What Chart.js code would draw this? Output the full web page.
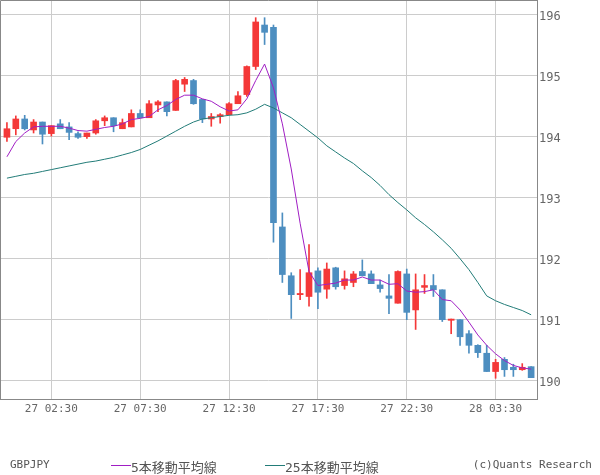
<!DOCTYPE html>
<html>
<head>
<meta charset="utf-8">
<script src="https://cdn.jsdelivr.net/npm/chart.js@4"></script>
<style>
  body { margin: 0; background: #fff; }
  #wrap { position: relative; width: 600px; height: 475px; }
  .foot { position: absolute; top: 457px; font: 11px "DejaVu Sans Mono", monospace; color: #555; line-height: 16px; white-space: nowrap; }
  .jp { font: 13px "DejaVu Sans Mono", "Noto Sans CJK JP", monospace; }
  .swatch { position: absolute; top: 465px; width: 20px; height: 1px; }
</style>
</head>
<body>
<div id="wrap">
  <canvas id="chart" width="600" height="475"></canvas>
  <div class="foot" style="left:10px">GBPJPY</div>
  <div class="swatch" style="left:111px;background:#a01ec4"></div>
  <div class="foot jp" style="left:131px">5本移動平均線</div>
  <div class="swatch" style="left:265px;background:#227c78"></div>
  <div class="foot jp" style="left:285px">25本移動平均線</div>
  <div class="foot" style="right:8px">(c)Quants Research</div>
</div>
<script>
// GBPJPY 30-minute candles, 27 00:00 -> 28 05:30
const opens = [193.98, 194.12, 194.28, 194.10, 194.23, 194.04, 194.20, 194.15, 194.04, 193.99,
  194.05, 194.25, 194.30, 194.12, 194.15, 194.37, 194.30, 194.51, 194.56, 194.42,
  194.85, 194.91, 194.60, 194.28, 194.32, 194.35, 194.53, 194.68, 195.14, 195.82,
  195.78, 192.51, 191.71, 191.40, 191.37, 191.79, 191.49, 191.84, 191.55, 191.60,
  191.78, 191.74, 191.56, 191.38, 191.26, 191.74, 191.15, 191.52, 191.55, 191.48,
  190.98, 190.99, 190.76, 190.57, 190.44, 190.14, 190.34, 190.21, 190.17, 190.22];
const highs = [194.22, 194.33, 194.34, 194.27, 194.23, 194.17, 194.27, 194.22, 194.07, 194.05,
  194.27, 194.33, 194.30, 194.28, 194.43, 194.43, 194.58, 194.58, 194.56, 194.93,
  194.96, 194.93, 194.60, 194.37, 194.37, 194.55, 194.73, 195.15, 195.94, 195.94,
  195.82, 192.74, 191.76, 191.81, 192.22, 191.84, 191.92, 191.85, 191.79, 191.78,
  191.97, 191.79, 191.64, 191.73, 191.79, 191.82, 191.74, 191.73, 191.73, 191.48,
  191.00, 190.99, 190.81, 190.58, 190.57, 190.34, 190.37, 190.26, 190.27, 190.22];
const lows = [193.91, 194.02, 194.10, 194.05, 193.87, 194.00, 194.12, 193.94, 193.96, 193.96,
  194.03, 194.17, 194.07, 194.12, 194.15, 194.30, 194.30, 194.40, 194.33, 194.42,
  194.73, 194.52, 194.22, 194.16, 194.21, 194.35, 194.53, 194.65, 195.09, 195.50,
  192.26, 191.60, 191.01, 191.32, 191.21, 191.17, 191.34, 191.49, 191.49, 191.53,
  191.71, 191.58, 191.44, 191.09, 191.26, 190.99, 190.83, 191.42, 191.37, 190.96,
  190.76, 190.57, 190.44, 190.37, 190.14, 190.03, 190.06, 190.06, 190.16, 190.04];
const closes = [194.12, 194.28, 194.12, 194.23, 194.03, 194.17, 194.12, 194.06, 193.98, 194.05,
  194.25, 194.30, 194.17, 194.22, 194.37, 194.30, 194.53, 194.56, 194.40, 194.91,
  194.93, 194.53, 194.28, 194.32, 194.35, 194.53, 194.66, 195.14, 195.87, 195.70,
  192.58, 191.73, 191.40, 191.42, 191.76, 191.44, 191.82, 191.53, 191.66, 191.74,
  191.71, 191.58, 191.50, 191.34, 191.78, 191.11, 191.48, 191.55, 191.48, 190.99,
  191.00, 190.71, 190.57, 190.45, 190.14, 190.29, 190.17, 190.17, 190.21, 190.04];

// moving averages
const ma5 = [193.66, 193.91, 194.05, 194.15, 194.16, 194.16, 194.16, 194.13, 194.09, 194.08,
  194.11, 194.14, 194.16, 194.20, 194.27, 194.29, 194.32, 194.43, 194.50, 194.60,
  194.67, 194.67, 194.61, 194.57, 194.48, 194.41, 194.43, 194.61, 194.91, 195.18,
  194.79, 194.20, 193.46, 192.57, 191.78, 191.55, 191.57, 191.59, 191.64, 191.64,
  191.69, 191.64, 191.64, 191.57, 191.58, 191.46, 191.44, 191.45, 191.48, 191.32,
  191.30, 191.15, 190.95, 190.74, 190.57, 190.43, 190.32, 190.24, 190.20, 190.18];
const ma25 = [193.31, 193.34, 193.37, 193.39, 193.42, 193.45, 193.48, 193.51, 193.54, 193.57,
  193.59, 193.62, 193.65, 193.69, 193.73, 193.78, 193.85, 193.92, 194.00, 194.08,
  194.16, 194.23, 194.28, 194.30, 194.32, 194.34, 194.35, 194.38, 194.44, 194.52,
  194.46, 194.38, 194.30, 194.19, 194.08, 193.97, 193.84, 193.74, 193.64, 193.55,
  193.43, 193.32, 193.19, 193.04, 192.91, 192.79, 192.66, 192.55, 192.43, 192.30,
  192.16, 191.99, 191.81, 191.60, 191.38, 191.30, 191.24, 191.19, 191.14, 191.07];

const xTickPos = [5, 15, 25, 35, 45, 55];
const xTickLabels = ["27 02:30", "27 07:30", "27 12:30", "27 17:30", "27 22:30", "28 03:30"];
const yTicks = [190, 191, 192, 193, 194, 195, 196];

const UP = "#f43838";
const DOWN = "#4d8ec0";
const candleColors = closes.map((c, i) => (c >= opens[i] ? UP : DOWN));

// draw the left/top frame lines (Chart.js only draws the axis sides)
const framePlugin = {
  id: "frame",
  afterDraw(chart) {
    const a = chart.chartArea;
    const ctx = chart.ctx;
    ctx.save();
    ctx.strokeStyle = "#888";
    ctx.lineWidth = 1;
    ctx.beginPath();
    ctx.moveTo(a.left + 0.5, a.bottom);
    ctx.lineTo(a.left + 0.5, a.top + 0.5);
    ctx.lineTo(a.right, a.top + 0.5);
    ctx.stroke();
    ctx.restore();
  }
};

new Chart(document.getElementById("chart"), {
  type: "bar",
  data: {
    datasets: [
      {
        type: "line",
        label: "5本移動平均線",
        data: ma5.map((v, i) => ({ x: i, y: v })),
        borderColor: "#a01ec4",
        borderWidth: 1,
        pointRadius: 0,
        tension: 0,
        order: 0
      },
      {
        type: "line",
        label: "25本移動平均線",
        data: ma25.map((v, i) => ({ x: i, y: v })),
        borderColor: "#227c78",
        borderWidth: 1,
        pointRadius: 0,
        tension: 0,
        order: 0
      },
      {
        label: "body",
        data: opens.map((o, i) => ({ x: i, y: [o, closes[i]] })),
        backgroundColor: candleColors,
        barThickness: 6,
        minBarLength: 1,
        grouped: false,
        order: 1
      },
      {
        label: "wick",
        data: highs.map((h, i) => ({ x: i, y: [lows[i], h] })),
        backgroundColor: candleColors,
        barThickness: 1,
        grouped: false,
        order: 2
      }
    ]
  },
  options: {
    responsive: false,
    animation: false,
    layout: { padding: { left: 0, top: 0, right: 0, bottom: 50 } },
    plugins: { legend: { display: false }, tooltip: { enabled: false } },
    scales: {
      x: {
        type: "linear",
        min: -0.78,
        max: 59.66,
        offset: false,
        grid: { color: "#cccccc", offset: false, drawTicks: false },
        border: { color: "#888" },
        afterBuildTicks: (scale) => { scale.ticks = xTickPos.map((v) => ({ value: v })); },
        afterFit: (scale) => {
          scale.height = 26;
          scale.paddingLeft = 0;
          scale.paddingRight = 0;
        },
        ticks: {
          autoSkip: false,
          maxRotation: 0,
          padding: 4,
          color: "#666",
          font: { family: "DejaVu Sans Mono", size: 11 },
          callback: (v) => xTickLabels[xTickPos.indexOf(v)]
        }
      },
      y: {
        position: "right",
        min: 189.69,
        max: 196.23,
        beginAtZero: false,
        grid: { color: "#cccccc", drawTicks: false },
        border: { color: "#888" },
        afterBuildTicks: (scale) => { scale.ticks = yTicks.map((v) => ({ value: v })); },
        afterFit: (scale) => {
          scale.width = 63;
          scale.paddingTop = 0;
          scale.paddingBottom = 0;
        },
        ticks: {
          padding: 2,
          labelOffset: 3,
          color: "#666",
          font: { family: "DejaVu Sans Mono", size: 12 },
          callback: (v) => String(v)
        }
      }
    }
  },
  plugins: [framePlugin]
});
</script>
</body>
</html>
